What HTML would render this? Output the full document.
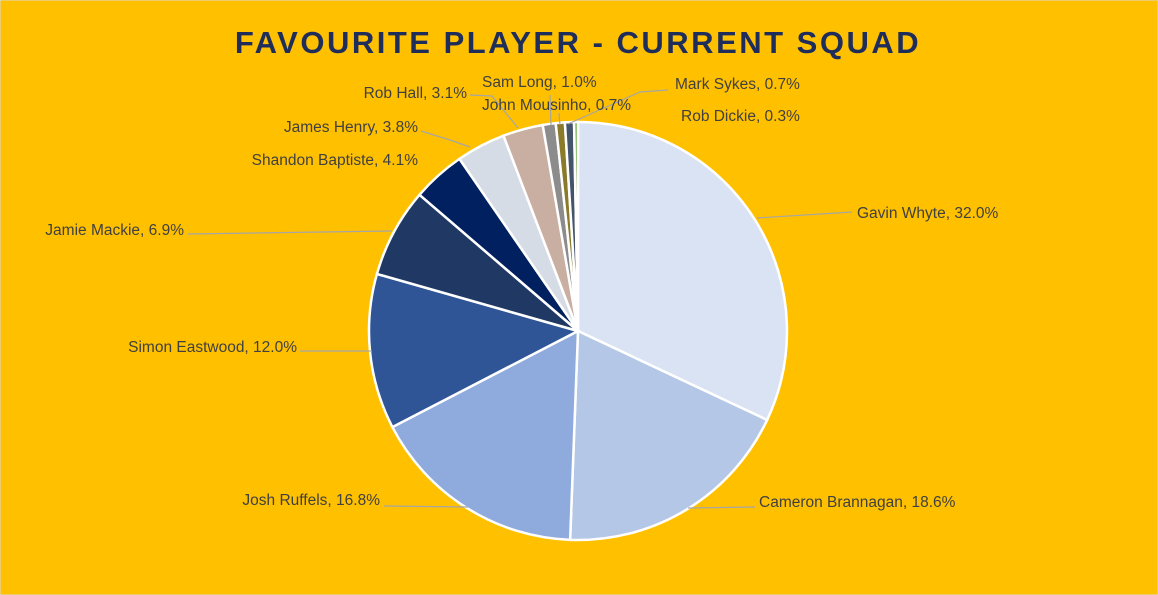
<!DOCTYPE html>
<html><head><meta charset="utf-8"><style>
body{margin:0;background:#ffc000;}
svg{display:block}
text{font-family:"Liberation Sans",sans-serif;font-size:15.5px;fill:#404040}
</style></head><body>
<svg id="s" width="1158" height="595" xmlns="http://www.w3.org/2000/svg">
<rect x="0" y="0" width="1158" height="595" fill="#ffc000" stroke="#d9d9d9"/>
<text x="578" y="53" text-anchor="middle" style="font-size:31px;font-weight:bold;fill:#1f2d5a;letter-spacing:2.5px">FAVOURITE PLAYER - CURRENT SQUAD</text>
<g id="pie"></g>
<g stroke="#a6a6a6" stroke-width="1.2" fill="none">
<polyline points="757,218 852,212"/>
<polyline points="688,508 755,507"/>
<polyline points="384,506 468,507"/>
<polyline points="300,351 372,351"/>
<polyline points="188,234 392,231"/>
<polyline points="421,131 450,140 470,147"/>
<polyline points="470,95 492,96 518,128"/>
<polyline points="550,95 551,125"/>
<polyline points="559,113 560,125"/>
<polyline points="668,90 640,92 568,124"/>
</g>
<text x="857" y="218">Gavin Whyte, 32.0%</text>
<text x="759" y="507">Cameron Brannagan, 18.6%</text>
<text x="380" y="505" text-anchor="end">Josh Ruffels, 16.8%</text>
<text x="297" y="352" text-anchor="end">Simon Eastwood, 12.0%</text>
<text x="184" y="235" text-anchor="end">Jamie Mackie, 6.9%</text>
<text x="418" y="165" text-anchor="end">Shandon Baptiste, 4.1%</text>
<text x="418" y="132" text-anchor="end">James Henry, 3.8%</text>
<text x="467" y="98" text-anchor="end">Rob Hall, 3.1%</text>
<text x="482" y="87">Sam Long, 1.0%</text>
<text x="482" y="110">John Mousinho, 0.7%</text>
<text x="675" y="89">Mark Sykes, 0.7%</text>
<text x="681" y="121">Rob Dickie, 0.3%</text>
</svg>
<script>
var d=[[32.0,"#dae3f3"],[18.6,"#b4c7e7"],[16.8,"#8faadc"],[12.0,"#2f5597"],[6.9,"#203864"],[4.1,"#002060"],[3.8,"#d6dce5"],[3.1,"#c9aea2"],[1.0,"#8c8c8c"],[0.7,"#8a7a2a"],[0.7,"#44546a"],[0.3,"#70ad47"]];
var tot=0;d.forEach(function(e){tot+=e[0]});
var cx=578,cy=331,r=209,a=0,g=document.getElementById("pie"),h="";
d.forEach(function(e){
 var a2=a+e[0]/tot*2*Math.PI;
 var x1=cx+r*Math.sin(a),y1=cy-r*Math.cos(a),x2=cx+r*Math.sin(a2),y2=cy-r*Math.cos(a2);
 var lg=(a2-a)>Math.PI?1:0;
 h+='<path d="M'+cx+','+cy+' L'+x1+','+y1+' A'+r+','+r+' 0 '+lg+' 1 '+x2+','+y2+' Z" fill="'+e[1]+'" stroke="#fff" stroke-width="2.5"/>';
 a=a2;
});
g.innerHTML=h;
</script>
</body></html>
